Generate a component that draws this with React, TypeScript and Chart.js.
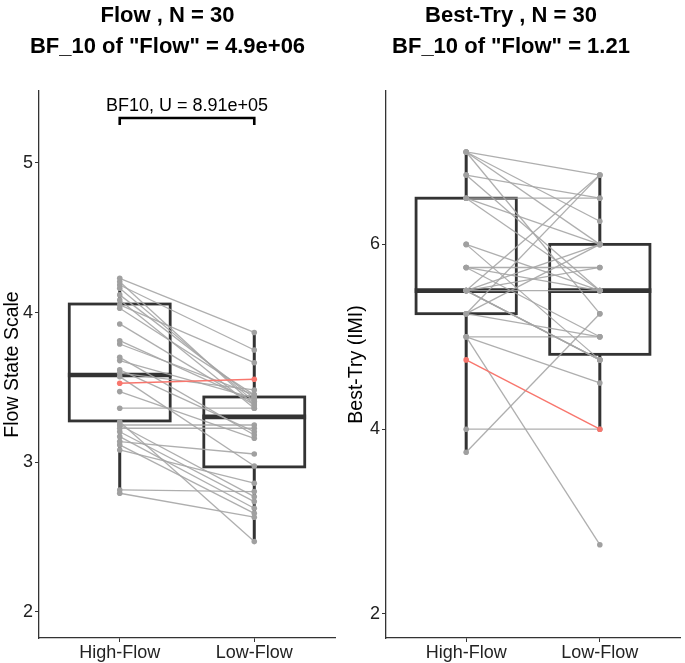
import React, { useEffect, useRef } from "react";
import { Chart, registerables } from "chart.js";

Chart.register(...registerables);

// ---------- Data ----------
const categories = ["High-Flow", "Low-Flow"];

// Panel 1: Flow State Scale (paired by index)
const flowTitle = ["Flow , N = 30", 'BF_10 of "Flow" = 4.9e+06'];
const flowHigh = [
  4.229, 4.206, 4.184, 4.162, 4.118, 4.084, 4.051, 4.029, 3.924, 3.812,
  3.79, 3.701, 3.679, 3.617, 3.595, 3.572, 3.528, 3.472, 3.361, 3.271,
  3.249, 3.249, 3.227, 3.204, 3.171, 3.138, 3.116, 3.082, 2.815, 2.793,
];
const flowLow = [
  3.867, 3.383, 3.75, 3.405, 3.428, 3.361, 3.665, 3.45, 3.383, 3.405,
  3.45, 3.182, 3.428, 3.204, 3.483, 2.975, 3.554, 3.16, 3.361, 2.47,
  3.249, 2.77, 3.227, 2.737, 2.693, 3.055, 2.659, 2.86, 2.804, 2.633,
];
const flowHighlight = 16;
// [lower whisker, q1, median, q3, upper whisker]
const flowBoxHigh = [2.793, 3.276, 3.583, 4.057, 4.229];
const flowBoxLow = [2.47, 2.969, 3.303, 3.436, 3.867];
const flowYTicks = [2, 3, 4, 5];
const flowYRange = [1.826, 5.48];
const flowBracketY = 5.3;
const flowBracketLabel = "BF10, U = 8.91e+05";

// Panel 2: Best-Try (IMI)
const tryTitle = ["Best-Try , N = 30", 'BF_10 of "Flow" = 1.21'];
const tryHigh = [
  7.0, 7.0, 7.0, 7.0, 6.75, 6.75, 6.5, 6.5, 6.5, 6.0,
  6.0, 5.75, 5.75, 5.75, 5.5, 5.5, 5.5, 5.5, 5.5, 5.5,
  5.5, 5.25, 5.25, 5.25, 5.0, 5.0, 5.0, 4.75, 4.0, 3.75,
];
const tryLow = [
  6.75, 6.25, 6.0, 5.25, 6.5, 5.5, 6.5, 6.0, 5.5, 5.5,
  4.75, 5.5, 5.75, 5.0, 5.75, 5.5, 4.75, 6.0, 4.75, 4.75,
  6.75, 6.75, 6.0, 5.0, 5.0, 4.5, 2.75, 4.0, 4.0, 5.25,
];
const tryHighlight = 27;
const tryBoxHigh = [3.75, 5.25, 5.5, 6.5, 7.0];
const tryBoxLow = [4.0, 4.81, 5.5, 6.0, 6.75];
const tryYTicks = [2, 4, 6];
const tryYRange = [1.74, 7.66];

const FONT = "'Liberation Sans', Arial, Helvetica, sans-serif";
const BOX_HALF = 0.375;

// ---------- Plugins ----------
const boxPlugin = {
  id: "boxes",
  beforeDatasetsDraw(chart: any, _args: any, opts: any) {
    const { ctx } = chart;
    const x = chart.scales.x;
    const y = chart.scales.y;
    const stats: number[][] = opts.stats || [];
    ctx.save();
    ctx.strokeStyle = "#333333";
    stats.forEach((s, i) => {
      const xc = x.getPixelForValue(i + 1);
      const xl = x.getPixelForValue(i + 1 - BOX_HALF);
      const xr = x.getPixelForValue(i + 1 + BOX_HALF);
      const [wl, q1, med, q3, wh] = s.map((v) => y.getPixelForValue(v));
      ctx.lineWidth = 3;
      ctx.beginPath();
      ctx.moveTo(xc, q3);
      ctx.lineTo(xc, wh);
      ctx.moveTo(xc, q1);
      ctx.lineTo(xc, wl);
      ctx.stroke();
      ctx.lineWidth = 2.8;
      ctx.strokeRect(xl, q3, xr - xl, q1 - q3);
      ctx.lineWidth = 4.6;
      ctx.beginPath();
      ctx.moveTo(xl - 1.4, med);
      ctx.lineTo(xr + 1.4, med);
      ctx.stroke();
    });
    ctx.restore();
  },
};

const bracketPlugin = {
  id: "bracket",
  afterDatasetsDraw(chart: any, _args: any, opts: any) {
    if (!opts || opts.value == null) return;
    const { ctx } = chart;
    const x = chart.scales.x;
    const y = chart.scales.y;
    const x1 = x.getPixelForValue(1);
    const x2 = x.getPixelForValue(2);
    const yb = y.getPixelForValue(opts.value);
    ctx.save();
    ctx.strokeStyle = "#000";
    ctx.lineWidth = 2.6;
    ctx.beginPath();
    ctx.moveTo(x1, yb + 7);
    ctx.lineTo(x1, yb);
    ctx.lineTo(x2, yb);
    ctx.lineTo(x2, yb + 7);
    ctx.stroke();
    ctx.fillStyle = "#000";
    ctx.font = `18px ${FONT}`;
    ctx.textAlign = "center";
    ctx.textBaseline = "alphabetic";
    ctx.fillText(opts.label, (x1 + x2) / 2, yb - 7);
    ctx.restore();
  },
};

function makeConfig(p: {
  title: string[];
  high: number[];
  low: number[];
  highlight: number;
  boxes: number[][];
  yTicks: number[];
  yRange: number[];
  yTitle: string;
  axisWidth: number;
  yTitlePad: number;
  padRight: number;
  bracket?: { value: number; label: string };
}) {
  const datasets = p.high.map((h, i) => {
    const hl = i === p.highlight;
    return {
      data: [
        { x: 1, y: h },
        { x: 2, y: p.low[i] },
      ],
      borderColor: hl ? "#f8766d" : "rgba(165,165,165,0.9)",
      borderWidth: hl ? 1.4 : 1.3,
      pointRadius: 2.8,
      pointBackgroundColor: hl ? "#f8766d" : "#a0a0a0",
      pointBorderWidth: 0,
      pointBorderColor: "transparent",
      order: hl ? 0 : 1,
      tension: 0,
    };
  });
  return {
    type: "line",
    data: { datasets },
    plugins: [boxPlugin, bracketPlugin],
    options: {
      animation: false,
      responsive: false,
      events: [],
      layout: { padding: { left: 0, right: p.padRight, top: 0, bottom: 0 } },
      plugins: {
        legend: { display: false },
        tooltip: { enabled: false },
        title: {
          display: true,
          text: p.title,
          color: "#000",
          font: { family: FONT, size: 22, weight: "bold", lineHeight: 1.4 },
          padding: { top: 1, bottom: 28.4 },
        },
        boxes: { stats: p.boxes },
        bracket: p.bracket || {},
      },
      scales: {
        x: {
          type: "linear",
          min: 0.4,
          max: 2.6,
          afterBuildTicks: (s: any) => {
            s.ticks = categories.map((_, i) => ({ value: i + 1 }));
          },
          afterFit: (s: any) => {
            s.height = 25;
          },
          ticks: {
            callback: (v: any) => categories[Math.round(v) - 1],
            color: "#222",
            font: { family: FONT, size: 18 },
            padding: 0,
            maxRotation: 0,
            autoSkip: false,
          },
          grid: {
            drawOnChartArea: false,
            tickLength: 4,
            color: "#333",
            lineWidth: 1,
          },
          border: { display: true, color: "#333", width: 1.3 },
        },
        y: {
          type: "linear",
          min: p.yRange[0],
          max: p.yRange[1],
          afterBuildTicks: (s: any) => {
            s.ticks = p.yTicks.map((v) => ({ value: v }));
          },
          afterFit: (s: any) => {
            s.width = p.axisWidth;
          },
          ticks: {
            callback: (v: any) => String(v),
            color: "#222",
            font: { family: FONT, size: 18 },
            padding: 2,
          },
          grid: {
            drawOnChartArea: false,
            tickLength: 4,
            color: "#333",
            lineWidth: 1,
          },
          border: { display: true, color: "#333", width: 1.3 },
          title: {
            display: true,
            text: p.yTitle,
            color: "#000",
            font: { family: FONT, size: 19.5 },
            padding: { top: p.yTitlePad, bottom: 0 },
          },
        },
      },
    },
  };
}

function Panel(props: { config: any; width: number; left: number }) {
  const ref = useRef<HTMLCanvasElement | null>(null);
  useEffect(() => {
    if (!ref.current) return;
    const chart = new Chart(ref.current, props.config);
    return () => chart.destroy();
  }, []);
  return (
    <div style={{ position: "absolute", left: props.left, top: 0, width: props.width, height: 663 }}>
      <canvas ref={ref} width={props.width} height={663} style={{ display: "block" }} />
    </div>
  );
}

export default function App() {
  const flowConfig = makeConfig({
    title: flowTitle,
    high: flowHigh,
    low: flowLow,
    highlight: flowHighlight,
    boxes: [flowBoxHigh, flowBoxLow],
    yTicks: flowYTicks,
    yRange: flowYRange,
    yTitle: "Flow State Scale",
    axisWidth: 39,
    yTitlePad: 1,
    padRight: 7,
    bracket: { value: flowBracketY, label: flowBracketLabel },
  });
  const tryConfig = makeConfig({
    title: tryTitle,
    high: tryHigh,
    low: tryLow,
    highlight: tryHighlight,
    boxes: [tryBoxHigh, tryBoxLow],
    yTicks: tryYTicks,
    yRange: tryYRange,
    yTitle: "Best-Try (IMI)",
    axisWidth: 44,
    yTitlePad: 3,
    padRight: 5,
  });
  return (
    <div style={{ position: "absolute", left: 0, top: 0, width: 685, height: 663, background: "#fff" }}>
      <Panel config={flowConfig} width={342} left={0} />
      <Panel config={tryConfig} width={343} left={342} />
    </div>
  );
}
